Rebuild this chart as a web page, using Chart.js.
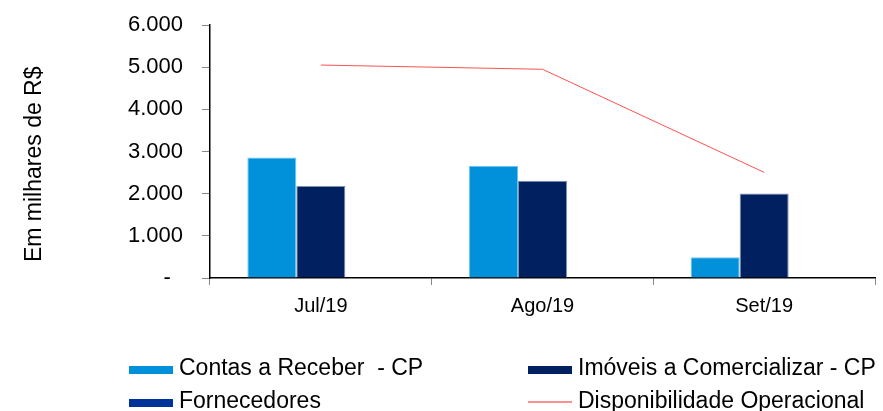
<!DOCTYPE html>
<html>
<head>
<meta charset="utf-8">
<script src="https://cdn.jsdelivr.net/npm/chart.js@4"></script>
<style>
    body { margin: 0; background: #fff; }
    #wrap { position: relative; width: 883px; height: 411px; }
    #chart { position: absolute; left: 0; top: 0; }
    .leg { position: absolute; font-family: 'Liberation Sans', Arial, sans-serif; font-size: 23px; color: #000; white-space: pre; line-height: 26px; }
    .leg i { position: absolute; left: 0; width: 44px; }
</style>
</head>
<body>
<div id="wrap">
    <canvas id="chart" width="883" height="411"></canvas>
</div>
<script>
// ── DATA ─────────────────────────────────────────────
const months       = ['Jul/19', 'Ago/19', 'Set/19'];
const contasReceber = [2860, 2655, 490];
const imoveis       = [2180, 2305, 2005];
const fornecedores  = [0, 10, 0];
const disponibilidade = [5050, 4950, 2505];
const yTicks        = [0, 1000, 2000, 3000, 4000, 5000, 6000];

const FONT = "'Liberation Sans', Arial, sans-serif";

// "-" for zero (with trailing spaces like the accounting format), dot thousands otherwise
const fmt = v => v === 0 ? '-  ' : v.toLocaleString('pt-BR');

const series = [
    { label: 'Contas a Receber  - CP', color: '#0091DA', border: '#6CC4F0', data: contasReceber },
    { label: 'Imóveis a Comercializar - CP', color: '#002060', border: '#7F8FB0', data: imoveis },
    { label: 'Fornecedores', color: '#003399', border: '#C8CCD8', data: fornecedores }
];

const ctx = document.getElementById('chart');

new Chart(ctx, {
    data: {
        labels: months,
        datasets: [
            {
                type: 'line',
                label: 'Disponibilidade Operacional',
                data: disponibilidade,
                borderColor: '#FF5050',
                borderWidth: 1,
                pointRadius: 0,
                tension: 0,
                order: 0
            },
            ...series.map(s => ({
                type: 'bar',
                label: s.label,
                data: s.data,
                backgroundColor: s.color,
                borderColor: s.border,
                borderWidth: 1,
                categoryPercentage: 0.663,
                barPercentage: 1,
                order: 1
            }))
        ]
    },
    options: {
        responsive: false,
        animation: false,
        layout: { padding: { left: 0, right: 8, top: 25, bottom: 93 } },
        plugins: {
            legend:  { display: false },
            tooltip: { enabled: false }
        },
        scales: {
            x: {
                grid: { drawOnChartArea: false, drawTicks: true, tickLength: 7, color: '#888' },
                border: { display: true, color: '#000', width: 1.5 },
                ticks: { color: '#000', padding: 9, maxRotation: 0, font: { family: FONT, size: 20 } },
                afterFit: s => { s.height = 40; s.paddingLeft = 0; s.paddingRight = 0; }
            },
            y: {
                min: 0,
                max: 6000,
                afterBuildTicks: s => { s.ticks = yTicks.map(v => ({ value: v })); },
                grid: { drawOnChartArea: false, drawTicks: true, tickLength: 8, color: '#888' },
                border: { display: true, color: '#000', width: 1.5 },
                ticks: { color: '#000', padding: 19, callback: v => fmt(v), font: { family: FONT, size: 22 } },
                title: {
                    display: true,
                    text: 'Em milhares de R$    ',
                    color: '#000',
                    padding: { top: 21, bottom: 0 },
                    font: { family: FONT, size: 23 }
                },
                afterFit: s => { s.width = 210; s.paddingTop = 0; s.paddingBottom = 0; }
            }
        }
    }
});

// ── LEGEND (two columns) ─────────────────────────────
const legendItems = [
    { label: series[0].label, color: series[0].color, line: false },
    { label: series[1].label, color: series[1].color, line: false },
    { label: series[2].label, color: series[2].color, line: false },
    { label: 'Disponibilidade Operacional', color: '#FF9090', line: true }
];
const wrap = document.getElementById('wrap');
legendItems.forEach((item, i) => {
    const col = i % 2, row = Math.floor(i / 2);
    const d = document.createElement('div');
    d.className = 'leg';
    d.style.left = (col ? 528 : 129) + 'px';
    d.style.top = (row ? 387 : 354) + 'px';
    d.style.paddingLeft = '50px';
    const mark = document.createElement('i');
    mark.style.background = item.color;
    mark.style.top = item.line ? '14px' : '12px';
    mark.style.height = item.line ? '2px' : '8px';
    d.appendChild(mark);
    d.appendChild(document.createTextNode(item.label));
    wrap.appendChild(d);
});
</script>
</body>
</html>
